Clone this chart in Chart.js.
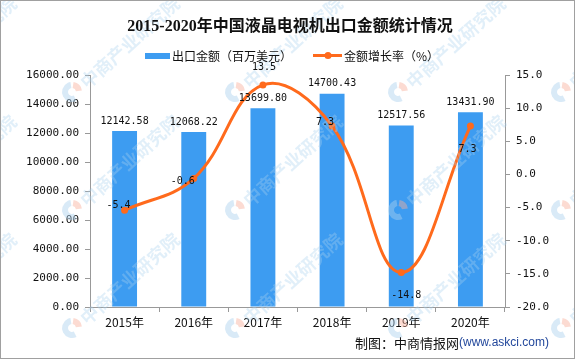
<!DOCTYPE html>
<html>
<head>
<meta charset="utf-8">
<script src="https://cdn.jsdelivr.net/npm/chart.js@4.4.0/dist/chart.umd.min.js"></script>
<style>
  html, body { margin: 0; padding: 0; background: #fff; }
  canvas { display: block; }
</style>
</head>
<body>
<canvas id="chart" width="575" height="359"></canvas>
<script>
// Daten
const years = ['2015年', '2016年', '2017年', '2018年', '2019年', '2020年'];
const exportValue = [12142.58, 12068.22, 13699.80, 14700.43, 12517.56, 13431.90];
const growthRate = [-5.4, -0.6, 13.5, 7.3, -14.8, 7.3];
const leftTicks = [0, 2000, 4000, 6000, 8000, 10000, 12000, 14000, 16000];
const rightTicks = [-20, -15, -10, -5, 0, 5, 10, 15];

// Stil
const BAR_COLOR = '#3d9cf1';
const LINE_COLOR = '#ff6a1c';
const AXIS_COLOR = '#999999';
const MONO = '"DejaVu Sans Mono", "Liberation Mono", monospace';
const CJK = '"Noto Sans CJK SC", sans-serif';
// Versatz der Linien-Beschriftungen relativ zum Punkt (dx, dy)
const rateLabelOffsets = [[-6, -5], [-11, 3], [1, -18], [-7, -4], [5, 23], [-3, 23]];

// Wasserzeichen: Logo + Schriftzug, schräg gekachelt
function drawWatermark(ctx) {
  ctx.save();
  const xs = [-91, 72, 235, 398, 561];
  const ys = [-26, 92, 210, 328];
  xs.forEach(x0 => {
    ys.forEach(y0 => {
      ctx.save();
      ctx.translate(x0, y0);
      // Logo: "C"-Ring mit rosa Segment
      ctx.lineWidth = 6;
      ctx.strokeStyle = 'rgba(170, 208, 238, 0.45)';
      ctx.beginPath();
      ctx.arc(0, 0, 7, 0.35 * Math.PI, 1.45 * Math.PI);
      ctx.stroke();
      ctx.strokeStyle = 'rgba(248, 175, 155, 0.45)';
      ctx.beginPath();
      ctx.arc(0, 0, 7, 1.55 * Math.PI, 1.95 * Math.PI);
      ctx.stroke();
      // Schriftzug
      ctx.rotate(-42 * Math.PI / 180);
      ctx.fillStyle = 'rgba(170, 208, 238, 0.35)';
      ctx.font = 'bold 18px ' + CJK;
      ctx.textBaseline = 'middle';
      ctx.fillText('中商产业研究院', 13, 2);
      ctx.restore();
    });
  });
  ctx.restore();
}

// Titel, Legende, Quelle, Rahmen
const decorPlugin = {
  id: 'decor',
  beforeDraw(chart) {
    const ctx = chart.ctx;
    ctx.save();
    ctx.fillStyle = '#fff';
    ctx.fillRect(0, 0, chart.width, chart.height);
    ctx.restore();
  },
  afterDatasetsDraw(chart) {
    drawWatermark(chart.ctx);
  },
  afterDraw(chart) {
    const ctx = chart.ctx;
    ctx.save();
    // Titel
    ctx.fillStyle = '#111';
    ctx.textAlign = 'center';
    ctx.textBaseline = 'middle';
    ctx.font = 'bold 16px "Liberation Serif", ' + CJK;
    ctx.fillText('2015-2020年中国液晶电视机出口金额统计情况', 290, 27);

    // Legende
    ctx.font = '12px ' + CJK;
    ctx.textAlign = 'left';
    ctx.fillStyle = BAR_COLOR;
    ctx.fillRect(145, 53, 25, 6);
    ctx.fillStyle = '#111';
    ctx.fillText('出口金额（百万美元）', 172, 56);
    ctx.strokeStyle = LINE_COLOR;
    ctx.lineWidth = 3;
    ctx.beginPath();
    ctx.moveTo(313, 55.5);
    ctx.lineTo(342, 55.5);
    ctx.stroke();
    ctx.fillStyle = LINE_COLOR;
    ctx.beginPath();
    ctx.arc(328, 55.5, 3.5, 0, Math.PI * 2);
    ctx.fill();
    ctx.fillStyle = '#111';
    ctx.fillText('金额增长率（%）', 344, 56);

    // Quelle
    ctx.font = '13px ' + CJK;
    ctx.fillStyle = '#111';
    const src1 = '制图：中商情报网';
    ctx.fillText(src1, 355, 343);
    const w1 = ctx.measureText(src1).width;
    ctx.font = '12px "Liberation Sans", sans-serif';
    ctx.fillStyle = '#23489c';
    ctx.fillText('(www.askci.com)', 355 + w1, 343);

    // Rahmen
    ctx.strokeStyle = '#a0a0a0';
    ctx.lineWidth = 1;
    ctx.strokeRect(0.5, 0.5, chart.width - 1, chart.height - 1);
    ctx.restore();
  }
};

// Datenbeschriftungen
const valueLabelPlugin = {
  id: 'valueLabels',
  afterDatasetsDraw(chart) {
    const ctx = chart.ctx;
    ctx.save();
    ctx.font = '10px ' + MONO;
    ctx.fillStyle = '#111';
    ctx.textAlign = 'center';
    ctx.textBaseline = 'middle';
    const barMeta = chart.getDatasetMeta(0);
    barMeta.data.forEach((bar, i) => {
      ctx.fillText(exportValue[i].toFixed(2), bar.x, bar.y - 10);
    });
    const lineMeta = chart.getDatasetMeta(1);
    lineMeta.data.forEach((pt, i) => {
      const [dx, dy] = rateLabelOffsets[i];
      ctx.fillText(growthRate[i].toFixed(1), pt.x + dx, pt.y + dy);
    });
    ctx.restore();
  }
};

new Chart(document.getElementById('chart'), {
  data: {
    labels: years,
    datasets: [
      {
        type: 'bar',
        label: '出口金额（百万美元）',
        data: exportValue,
        backgroundColor: BAR_COLOR,
        yAxisID: 'y',
        categoryPercentage: 1,
        barPercentage: 0.36,
        order: 2
      },
      {
        type: 'line',
        label: '金额增长率（%）',
        data: growthRate,
        borderColor: LINE_COLOR,
        backgroundColor: LINE_COLOR,
        borderWidth: 3,
        pointRadius: 3.5,
        pointBackgroundColor: LINE_COLOR,
        pointBorderWidth: 0,
        tension: 0.4,
        yAxisID: 'y1',
        order: 1
      }
    ]
  },
  options: {
    responsive: false,
    animation: false,
    layout: { padding: { top: 75, left: 0, right: 0, bottom: 0 } },
    plugins: {
      legend: { display: false },
      title: { display: false },
      tooltip: { enabled: false }
    },
    scales: {
      x: {
        grid: { display: true, drawOnChartArea: false, drawTicks: true, tickLength: 5, color: AXIS_COLOR, offset: true },
        border: { display: true, color: AXIS_COLOR },
        ticks: { color: '#111', font: { family: CJK, size: 12 }, padding: 3 },
        afterFit(scale) { scale.height = 52; }
      },
      y: {
        position: 'left',
        min: 0,
        max: 16000,
        afterBuildTicks(scale) { scale.ticks = leftTicks.map(v => ({ value: v })); },
        grid: { drawOnChartArea: false, drawTicks: true, tickLength: 5, color: AXIS_COLOR },
        border: { display: true, color: AXIS_COLOR },
        ticks: {
          color: '#111',
          font: { family: MONO, size: 11 },
          padding: 6,
          callback: v => v.toFixed(2)
        },
        afterFit(scale) { scale.width = 90; }
      },
      y1: {
        position: 'right',
        min: -20,
        max: 15,
        afterBuildTicks(scale) { scale.ticks = rightTicks.map(v => ({ value: v })); },
        grid: { drawOnChartArea: false, drawTicks: true, tickLength: 5, color: AXIS_COLOR },
        border: { display: true, color: AXIS_COLOR },
        ticks: {
          color: '#111',
          font: { family: MONO, size: 11 },
          padding: 6,
          callback: v => v.toFixed(1)
        },
        afterFit(scale) { scale.width = 70; }
      }
    }
  },
  plugins: [decorPlugin, valueLabelPlugin]
});
</script>
</body>
</html>
